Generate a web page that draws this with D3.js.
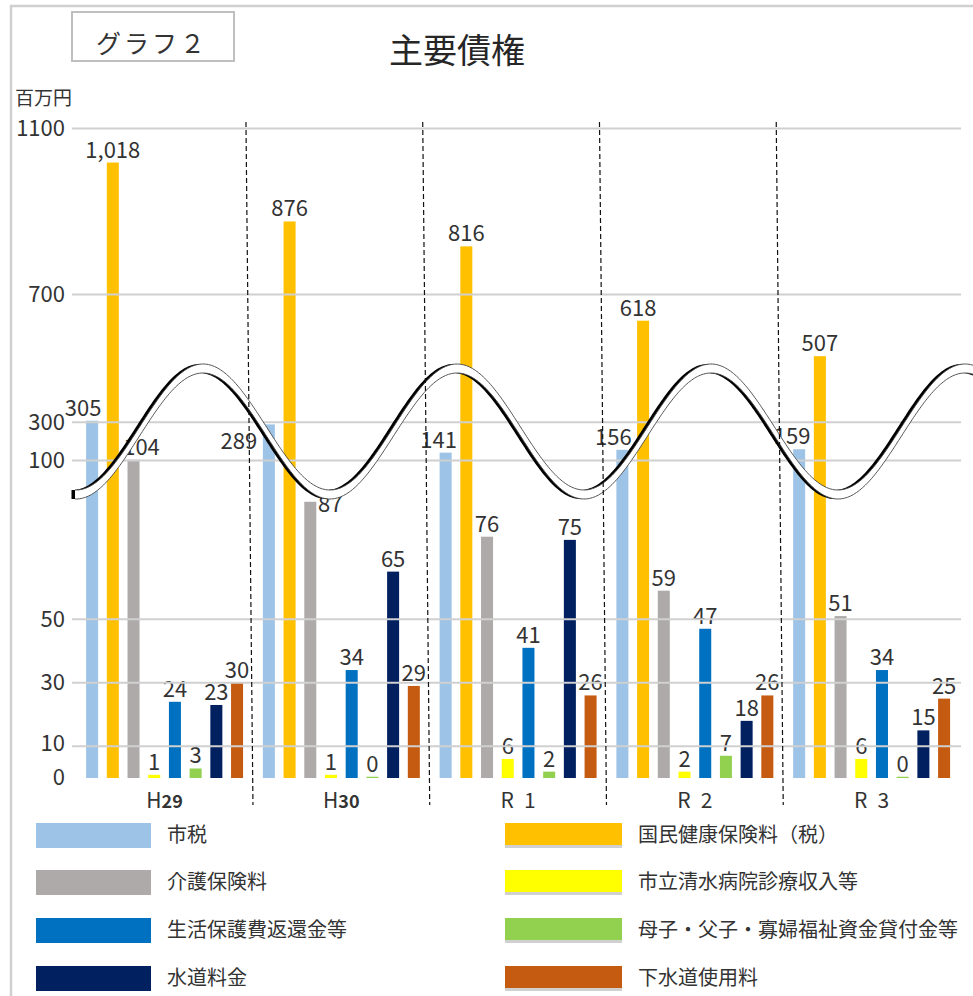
<!DOCTYPE html>
<html>
<head>
<meta charset="utf-8">
<script src="https://cdn.jsdelivr.net/npm/d3@7"></script>
<style>
  body { margin: 0; background: #fff; }
  svg { display: block; }
  text { font-family: "Noto Sans CJK JP", "Noto Sans", sans-serif; fill: #333; }
</style>
</head>
<body>
<svg id="chart" width="973" height="996"></svg>
<script>
// ---- data (百万円) ----
const years = ["H29", "H30", "R1", "R2", "R3"];
const yearPrefix = ["H", "H", "R", "R", "R"];
const yearNumber = ["29", "30", "1", "2", "3"];

const seriesNames = [
  "市税", "国民健康保険料（税）", "介護保険料", "市立清水病院診療収入等",
  "生活保護費返還金等", "母子・父子・寡婦福祉資金貸付金等", "水道料金", "下水道使用料"
];
const shizei  = [305, 289, 141, 156, 159];
const kokuho  = [1018, 876, 816, 618, 507];
const kaigo   = [104, 87, 76, 59, 51];
const byoin   = [1, 1, 6, 2, 6];
const seiho   = [24, 34, 41, 47, 34];
const boshi   = [3, 0.4, 2, 7, 0.4];
const suido   = [23, 65, 75, 18, 15];
const gesui   = [30, 29, 26, 26, 25];
const yTicks  = [0, 10, 30, 50, 100, 300, 700, 1100];

const seriesValues = [shizei, kokuho, kaigo, byoin, seiho, boshi, suido, gesui];
const seriesColors = ["#9DC3E6", "#FFC000", "#AEAAAA", "#FFFF00", "#0070C0", "#92D050", "#002060", "#C55A11"];

// ---- scales ----
const svg = d3.select("#chart");

// broken value axis: 0-100 is stretched, 100-1100 is compressed
const y = d3.scaleLinear()
  .domain([0, 100, 300, 700, 1100])
  .range([778, 460.5, 422.3, 294.5, 128.5]);

const x0 = d3.scaleBand().domain(years).range([76.2, 960]).paddingInner(0).paddingOuter(0);
const x1 = d3.scaleBand().domain(d3.range(seriesNames.length))
  .range([0, x0.bandwidth()]).paddingInner(0.42).paddingOuter(0.478);

// ---- frame and headings ----
svg.append("rect").attr("x", 11).attr("y", 6).attr("width", 980).attr("height", 1010)
  .attr("fill", "none").attr("stroke", "#d0d0d0").attr("stroke-width", 2.5);

svg.append("rect").attr("x", 72).attr("y", 12).attr("width", 162).attr("height", 49)
  .attr("fill", "none").attr("stroke", "#bfbfbf").attr("stroke-width", 2);
svg.append("text").attr("x", 152).attr("y", 53).attr("text-anchor", "middle")
  .style("font-size", "25px").style("letter-spacing", "3px").text("グラフ２");

svg.append("text").attr("x", 457).attr("y", 63).attr("text-anchor", "middle")
  .style("font-size", "34px").style("fill", "#262626").text("主要債権");

svg.append("text").attr("x", 15).attr("y", 105).style("font-size", "19px").text("百万円");

// ---- bars ----
const groups = svg.append("g").selectAll("g").data(years).join("g")
  .attr("transform", d => `translate(${x0(d)},0)`);

groups.each(function (yr, j) {
  d3.select(this).selectAll("rect")
    .data(seriesValues.map((vals, i) => ({ i, v: vals[j] })))
    .join("rect")
    .attr("x", d => x1(d.i))
    .attr("y", d => y(d.v))
    .attr("width", x1.bandwidth())
    .attr("height", d => y(0) - y(d.v))
    .attr("fill", d => seriesColors[d.i]);
});

// ---- gridlines (over the bars) ----
svg.append("g").selectAll("line").data(yTicks.filter(t => t > 0)).join("line")
  .attr("x1", 72).attr("x2", 961)
  .attr("y1", d => y(d)).attr("y2", d => y(d))
  .attr("stroke", "#d0d0d0").attr("stroke-width", 2);

// ---- value axis labels ----
const yAxis = svg.append("g").attr("transform", "translate(72,0)")
  .call(d3.axisLeft(y).tickValues(yTicks).tickSize(0).tickPadding(7).tickFormat(d3.format("d")));
yAxis.select(".domain").remove();
yAxis.selectAll("text").style("font-size", "22px").style("font-family", '"Noto Sans CJK JP", sans-serif')
  .attr("fill", "#333");
// keep the two lowest labels apart
yAxis.selectAll(".tick").filter(d => d === 0).select("text").attr("y", -1);
yAxis.selectAll(".tick").filter(d => d === 10).select("text").attr("y", -3);

// ---- break mark across the axis ----
const waveY = x => 427 - 63 * Math.cos(2 * Math.PI * (x - 203) / 254);
const waveXs = d3.range(75, 985, 1.5);
const ribbon = d3.area().x(d => d).y0(d => waveY(d)).y1(d => waveY(d) + 9);
const edgeTop = d3.line().x(d => d).y(d => waveY(d));
const edgeBottom = d3.line().x(d => d).y(d => waveY(d) + 9);

const wave = svg.append("g");
wave.append("path").attr("d", ribbon(waveXs)).attr("transform", "translate(-3.5,0)").attr("fill", "#000");
wave.append("path").attr("d", ribbon(waveXs)).attr("fill", "#fff");
wave.append("path").attr("d", edgeTop(waveXs)).attr("fill", "none").attr("stroke", "#444").attr("stroke-width", 0.9);
wave.append("path").attr("d", edgeBottom(waveXs)).attr("fill", "none").attr("stroke", "#444").attr("stroke-width", 0.9);

// ---- group separators ----
const bounds = d3.range(1, years.length).map(i => x0.range()[0] + i * x0.step());
svg.append("g").selectAll("line").data(bounds).join("line")
  .attr("x1", d => d - 7).attr("y1", 122).attr("x2", d => d).attr("y2", 805)
  .attr("stroke", "#111").attr("stroke-width", 1.2).attr("stroke-dasharray", "5,3");

// ---- value labels ----
const labelNudge = {
  "0|H29": [-9, 0], "0|H30": [-30, 30], "0|R1": [-7, 0], "0|R2": [-9, 0], "0|R3": [-7, 0],
  "2|H29": [8, 0], "2|H30": [20, 15], "1|R2": [-5, 0]
};
const fmt = d3.format(",.0f");
groups.each(function (yr, j) {
  d3.select(this).selectAll("text.val")
    .data(seriesValues.map((vals, i) => ({ i, v: vals[j] })))
    .join("text").attr("class", "val")
    .attr("x", d => x1(d.i) + x1.bandwidth() / 2 + ((labelNudge[d.i + "|" + yr] || [0, 0])[0]))
    .attr("y", d => y(d.v) - 5 + ((labelNudge[d.i + "|" + yr] || [0, 0])[1]))
    .attr("text-anchor", "middle")
    .style("font-size", "22px")
    .text(d => fmt(d.v));
});

// ---- category axis ----
const xAxis = svg.append("g").attr("transform", "translate(0,786)")
  .call(d3.axisBottom(x0).tickSize(0).tickPadding(0));
xAxis.select(".domain").remove();
xAxis.selectAll("text").each(function (d, j) {
  const t = d3.select(this).text(null).attr("y", 22).attr("dy", null)
    .style("font-family", '"Noto Sans CJK JP", sans-serif').attr("fill", "#333");
  t.append("tspan").style("font-size", "21px").text(yearPrefix[j]);
  if (yearNumber[j].length > 1) {
    t.append("tspan").style("font-size", "18px").style("font-weight", "bold").text(yearNumber[j]);
  } else {
    t.append("tspan").style("font-size", "21px").attr("dx", 10).text(yearNumber[j]);
  }
});

// ---- legend ----
const legendRowTop = [823, 870, 918, 966];
const legend = svg.append("g");
seriesNames.forEach((name, i) => {
  const col = i % 2, row = Math.floor(i / 2);
  const sx = col === 0 ? 36 : 505;
  const sw = col === 0 ? 115 : 117;
  const top = legendRowTop[row];
  if (col === 1) {
    legend.append("rect").attr("x", sx).attr("y", top).attr("width", sw).attr("height", 25).attr("fill", "#d0d0d0");
    legend.append("rect").attr("x", sx).attr("y", top).attr("width", sw).attr("height", 22).attr("fill", seriesColors[i]);
  } else {
    legend.append("rect").attr("x", sx).attr("y", top).attr("width", sw).attr("height", 25).attr("fill", seriesColors[i]);
  }
  legend.append("text").attr("x", col === 0 ? 167 : 638).attr("y", top + 12).attr("dy", "0.35em")
    .style("font-size", "20px").text(name);
});
</script>
</body>
</html>
